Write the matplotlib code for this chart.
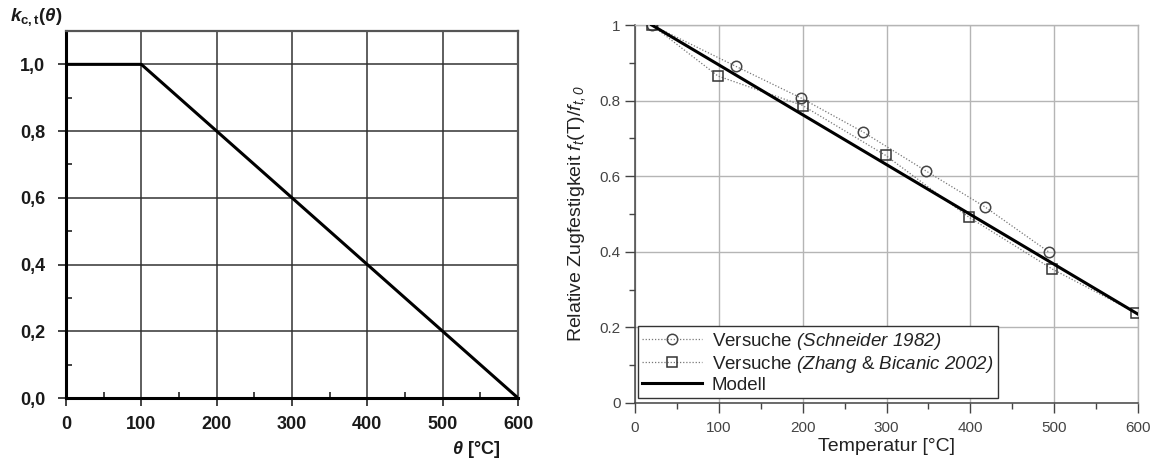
import matplotlib
matplotlib.use("Agg")
import matplotlib.pyplot as plt
from matplotlib.ticker import MultipleLocator, FixedLocator, FuncFormatter

plt.rcParams['font.family'] = ['Liberation Sans', 'DejaVu Sans']
plt.rcParams['mathtext.fontset'] = 'custom'
plt.rcParams['mathtext.rm'] = 'Liberation Sans:italic'
plt.rcParams['mathtext.sf'] = 'Liberation Sans'
plt.rcParams['mathtext.it'] = 'Liberation Sans:italic'
plt.rcParams['mathtext.bf'] = 'Liberation Sans:bold'
plt.rcParams['mathtext.bfit'] = 'Liberation Sans:italic:bold'

# ---- data: left chart (k_c,t(theta)) ----
theta = [0, 100, 600]
k_ct = [1.0, 1.0, 0.0]
left_xticks = [0, 100, 200, 300, 400, 500, 600]
left_yticks = [0.0, 0.2, 0.4, 0.6, 0.8, 1.0]

# ---- data: right chart ----
schneider_T = [20, 120, 198, 272, 347, 418, 494]
schneider_v = [1.0, 0.891, 0.807, 0.717, 0.614, 0.518, 0.399]
zhang_T = [20, 99, 200, 299, 398, 498, 598]
zhang_v = [1.0, 0.865, 0.787, 0.655, 0.492, 0.354, 0.238]
model_T = [20, 600]
model_v = [1.0, 0.235]
right_xticks = [0, 100, 200, 300, 400, 500, 600]
right_yticks = [0, 0.2, 0.4, 0.6, 0.8, 1.0]

fig = plt.figure(figsize=(11.59, 4.66), dpi=100)

# ================= LEFT =================
W, H = 1159, 466
axL = fig.add_axes([66 / W, 1 - 398 / H, (518 - 66) / W, (398 - 31) / H])
axL.plot(theta, k_ct, color='black', lw=2.2, solid_capstyle='butt', zorder=3)
axL.set_xlim(0, 600)
axL.set_ylim(0, 1.1)
axL.xaxis.set_major_locator(FixedLocator(left_xticks))
axL.yaxis.set_major_locator(FixedLocator(left_yticks))
axL.xaxis.set_minor_locator(MultipleLocator(50))
axL.yaxis.set_minor_locator(MultipleLocator(0.1))
axL.yaxis.set_major_formatter(FuncFormatter(lambda v, p: f"{v:.1f}".replace('.', ',')))
axL.grid(True, which='major', color='#333333', lw=1.1)
axL.tick_params(axis='both', which='major', direction='out', length=6, width=1.2,
                color='#222222', labelsize=13, labelcolor='#1a1a1a')
axL.tick_params(axis='x', which='major', pad=7)
axL.tick_params(axis='y', which='major', pad=9)
axL.tick_params(axis='both', which='minor', direction='in', length=4, width=1.2, color='#222222')
for lbl in axL.get_xticklabels() + axL.get_yticklabels():
    lbl.set_fontweight('bold')
for s in ['left', 'bottom']:
    axL.spines[s].set_linewidth(2.2)
    axL.spines[s].set_color('black')
for s in ['top', 'right']:
    axL.spines[s].set_linewidth(1.6)
    axL.spines[s].set_color('#555555')
axL.set_axisbelow(True)

fig.text(10 / W, 1 - 17 / H,
         r"$\mathbfit{k}_{\mathbf{c,t}}\mathbf{(}\mathbfit{\theta}\mathbf{)}$",
         fontsize=13.5, ha='left', va='center', color='#1a1a1a')
fig.text(500 / W, 1 - 450 / H, r"$\mathbfit{\theta}$ [°C]",
         fontsize=13, fontweight='bold', ha='right', va='center', color='#1a1a1a')

# ================= RIGHT =================
axR = fig.add_axes([635 / W, 1 - 403 / H, (1138 - 635) / W, (403 - 25) / H])
axR.plot(schneider_T, schneider_v, linestyle=(0, (1, 1.5)), color='#777777', lw=0.9,
         marker='o', markersize=7.5, markerfacecolor='none', markeredgecolor='#444444',
         markeredgewidth=1.1, label=r"Versuche $(Schneider\ 1982)$", zorder=3)
axR.plot(zhang_T, zhang_v, linestyle=(0, (1, 1.5)), color='#777777', lw=0.9,
         marker='s', markersize=7.5, markerfacecolor='none', markeredgecolor='#333333',
         markeredgewidth=1.1, label=r"Versuche $(Zhang$ & $Bicanic\ 2002)$", zorder=3)
axR.plot(model_T, model_v, color='black', lw=2.2, label='Modell', zorder=4)
axR.set_xlim(0, 600)
axR.set_ylim(0, 1)
axR.xaxis.set_major_locator(FixedLocator(right_xticks))
axR.yaxis.set_major_locator(FixedLocator(right_yticks))
axR.xaxis.set_minor_locator(MultipleLocator(50))
axR.yaxis.set_minor_locator(MultipleLocator(0.1))
axR.yaxis.set_major_formatter(FuncFormatter(lambda v, p: f"{v:g}"))
axR.grid(True, which='major', color='#b5b5b5', lw=1.0)
axR.tick_params(axis='both', which='major', direction='out', length=7, width=1.0,
                color='#444444', labelsize=11, labelcolor='#444444')
axR.tick_params(axis='both', which='minor', direction='out', length=4, width=1.0, color='#444444')
axR.tick_params(axis='x', which='major', pad=6)
for s in ['left', 'bottom']:
    axR.spines[s].set_linewidth(1.1)
    axR.spines[s].set_color('#444444')
for s in ['top', 'right']:
    axR.spines[s].set_linewidth(1.0)
    axR.spines[s].set_color('#b5b5b5')
axR.set_axisbelow(True)
axR.set_xlabel("Temperatur [°C]", fontsize=14, color='#222222', labelpad=2)
axR.set_ylabel(r"Relative Zugfestigkeit $f_{t}\mathsf{(T)/}f_{t,0}$",
               fontsize=14, color='#222222', labelpad=8)
leg = axR.legend(loc='lower left', bbox_to_anchor=(0.005, 0.012), fontsize=13.5,
                 frameon=True, fancybox=False, edgecolor='#333333', framealpha=1,
                 borderpad=0.25, labelspacing=0.1, handlelength=3.2, handletextpad=0.5,
                 borderaxespad=0.0)
leg.get_frame().set_linewidth(1.0)
for t in leg.get_texts():
    t.set_color('#222222')

fig.savefig("out.png", dpi=100)
